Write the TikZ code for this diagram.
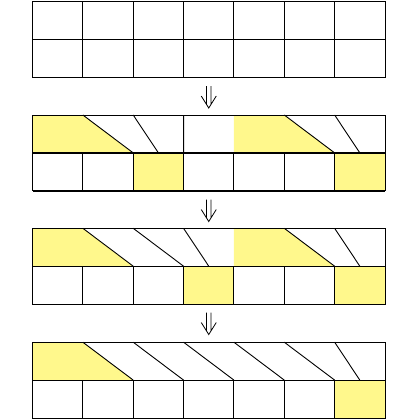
\documentclass[tikz,border=0pt]{standalone}
\definecolor{ylw}{RGB}{255,248,140}
\begin{document}
\begin{tikzpicture}[line width=0.9pt, line join=miter]
\useasboundingbox (0,0) rectangle (420pt,-420pt);
\tikzset{
  g/.style={shift={(32.5pt,-#1pt)}, x=50.357pt, y=-37.9pt},
  heavy/.style={line width=1.8pt},
  dnarr/.pic={
    \draw[line width=0.8pt] (-2.3pt,0pt) -- (-2.3pt,-18.3pt) (2.3pt,0pt) -- (2.3pt,-18.3pt)
      (-7.5pt,-10pt) -- (0pt,-22pt) -- (7.5pt,-10pt);
  }
}
% grid 1
\begin{scope}[g=1.5]
\draw (0,0) rectangle (7,2) (0,1) -- (7,1);
\foreach \i in {1,...,6} \draw (\i,0) -- (\i,2);
\end{scope}
\pic at (208.75pt,-86pt) {dnarr};
% grid 2
\begin{scope}[g=115]
\fill[ylw] (0,0) -- (1,0) -- (2,1) -- (0,1) -- cycle;
\fill[ylw] (4,0) -- (5,0) -- (6,1) -- (4,1) -- cycle;
\fill[ylw] (2,1) rectangle (3,2) (6,1) rectangle (7,2);
\draw (0,0) rectangle (7,2);
\draw (1,0) -- (2,1) (2,0) -- (2.5,1) (3,0) -- (3,1) (5,0) -- (6,1) (6,0) -- (6.5,1);
\foreach \i in {1,...,6} \draw (\i,1) -- (\i,2);
\draw[heavy] (0,1) -- (7,1) (0,2) -- (7,2);
\end{scope}
\pic at (208.75pt,-199.5pt) {dnarr};
% grid 3
\begin{scope}[g=228.3]
\fill[ylw] (0,0) -- (1,0) -- (2,1) -- (0,1) -- cycle;
\fill[ylw] (4,0) -- (5,0) -- (6,1) -- (4,1) -- cycle;
\fill[ylw] (3,1) rectangle (4,2) (6,1) rectangle (7,2);
\draw (0,0) rectangle (7,2) (0,1) -- (7,1);
\draw (1,0) -- (2,1) (2,0) -- (3,1) (3,0) -- (3.5,1) (5,0) -- (6,1) (6,0) -- (6.5,1);
\foreach \i in {1,...,6} \draw (\i,1) -- (\i,2);
\end{scope}
\pic at (208.75pt,-312.5pt) {dnarr};
% grid 4
\begin{scope}[g=342.2]
\fill[ylw] (0,0) -- (1,0) -- (2,1) -- (0,1) -- cycle;
\fill[ylw] (6,1) rectangle (7,2);
\draw (0,0) rectangle (7,2) (0,1) -- (7,1);
\draw (1,0) -- (2,1) (2,0) -- (3,1) (3,0) -- (4,1) (4,0) -- (5,1) (5,0) -- (6,1) (6,0) -- (6.5,1);
\foreach \i in {1,...,6} \draw (\i,1) -- (\i,2);
\end{scope}
\end{tikzpicture}
\end{document}
